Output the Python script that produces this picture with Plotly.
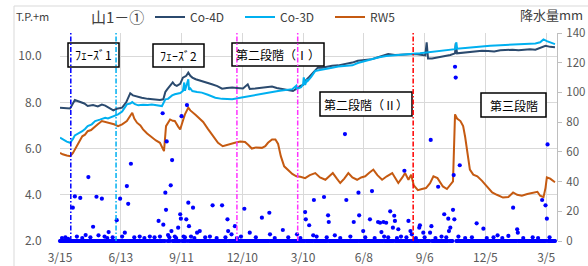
import pandas as pd
import plotly.graph_objects as go

START = pd.Timestamp("2021-03-15")
N_DAYS = 734  # observation days (daily rainfall record)

# ---- groundwater level T.P.+m (day offset from START, value) ----
co4d_day = [0, 7, 15, 22, 30, 36, 41, 49, 56, 62, 67, 73, 79, 84, 92, 98, 104, 108, 111, 116, 121, 130, 141,
            148, 153, 156, 159, 163, 167, 170, 173, 178, 182, 187, 190, 193, 196, 201, 210, 218, 225, 233, 240,
            247, 255, 262, 271, 278, 281, 289, 296, 305, 314, 321, 329, 338, 345, 351, 356, 360, 364, 369, 373,
            378, 382, 388, 396, 403, 412, 422, 433, 441, 452, 462, 471, 480, 486, 496, 504, 511, 519, 526, 533,
            541, 543, 545, 551, 560, 570, 578, 585, 586, 588, 597, 606, 615, 625, 634, 643, 652, 661, 670, 679,
            687, 696, 704, 711, 719, 726, 733]
co4d_val = [7.77, 7.75, 7.73, 8.10, 8.01, 7.95, 7.84, 7.88, 7.82, 7.90, 7.86, 7.75, 7.65, 7.72, 7.77, 8.00, 8.39,
            8.30, 8.27, 8.25, 8.20, 8.15, 8.13, 8.10, 8.13, 8.45, 8.57, 8.70, 8.86, 8.75, 8.71, 8.80, 9.07, 9.15,
            9.29, 9.15, 9.07, 9.00, 8.93, 8.85, 8.78, 8.70, 8.59, 8.62, 8.64, 8.62, 8.60, 8.78, 8.58, 8.60, 8.62,
            8.65, 8.68, 8.62, 8.57, 8.52, 8.49, 8.60, 8.71, 8.75, 8.95, 9.10, 9.22, 9.35, 9.51, 9.50, 9.55, 9.58,
            9.60, 9.65, 9.72, 9.80, 9.83, 9.87, 9.95, 10.02, 10.09, 10.05, 10.07, 10.09, 10.08, 10.09, 10.05,
            10.03, 10.60, 9.90, 9.90, 9.95, 10.00, 10.05, 10.12, 10.55, 10.12, 10.15, 10.18, 10.20, 10.23, 10.22,
            10.20, 10.25, 10.27, 10.28, 10.25, 10.27, 10.30, 10.28, 10.35, 10.45, 10.40, 10.38]

co3d_day = [0, 4, 10, 15, 19, 22, 27, 33, 37, 41, 47, 52, 59, 67, 71, 77, 81, 86, 92, 96, 99, 104, 107, 111, 116,
            123, 130, 136, 144, 151, 156, 160, 166, 170, 178, 182, 184, 185, 190, 191, 193, 196, 203, 210, 219,
            230, 240, 255, 267, 284, 304, 323, 344, 350, 351, 357, 360, 361, 363, 366, 367, 372, 378, 385, 393,
            403, 412, 422, 433, 441, 452, 462, 471, 483, 496, 511, 523, 533, 545, 556, 570, 585, 587, 588, 600,
            615, 625, 637, 652, 667, 681, 696, 704, 711, 716, 721, 729, 733]
co3d_val = [6.47, 6.40, 6.30, 6.25, 6.40, 6.57, 6.65, 6.75, 6.85, 6.97, 7.05, 7.19, 7.25, 7.33, 7.30, 7.38, 7.42,
            7.48, 7.60, 7.80, 7.91, 7.95, 8.01, 7.92, 7.87, 7.90, 7.88, 7.91, 7.88, 7.84, 8.13, 8.15, 8.30, 8.35,
            8.40, 8.49, 8.86, 8.50, 9.00, 8.55, 8.60, 8.49, 8.45, 8.42, 8.33, 8.20, 8.15, 8.13, 8.20, 8.30, 8.39,
            8.49, 8.57, 8.72, 8.58, 8.65, 8.78, 9.08, 8.75, 9.00, 8.93, 9.10, 9.36, 9.40, 9.43, 9.50, 9.55, 9.57,
            9.60, 9.70, 9.80, 9.88, 9.94, 10.00, 10.04, 10.09, 10.10, 10.12, 10.16, 10.20, 10.25, 10.30, 10.60,
            10.32, 10.35, 10.40, 10.42, 10.45, 10.47, 10.50, 10.52, 10.55, 10.55, 10.60, 10.72, 10.65, 10.55, 10.52]

rw5_day = [0, 4, 10, 15, 19, 22, 27, 33, 37, 41, 46, 52, 56, 62, 68, 74, 80, 86, 92, 99, 104, 107, 110, 114, 119,
           123, 129, 136, 142, 148, 153, 154, 157, 160, 163, 167, 170, 175, 178, 182, 185, 190, 193, 201, 206,
           212, 219, 227, 234, 241, 246, 252, 259, 267, 274, 279, 284, 290, 299, 304, 308, 314, 319, 323, 327,
           332, 338, 344, 350, 356, 363, 370, 378, 385, 393, 399, 404, 410, 415, 421, 427, 433, 440, 446, 452,
           458, 464, 470, 477, 484, 492, 496, 501, 507, 511, 516, 520, 524, 530, 536, 542, 548, 553, 559, 563,
           567, 573, 578, 582, 585, 588, 593, 597, 600, 603, 607, 612, 618, 625, 633, 640, 647, 656, 664, 671,
           677, 684, 692, 699, 707, 711, 716, 719, 721, 726, 730, 733]
rw5_val = [5.81, 5.75, 5.70, 5.67, 5.80, 5.96, 6.20, 6.53, 6.60, 6.75, 6.80, 6.97, 7.05, 7.19, 7.15, 7.12, 7.05,
           6.97, 7.05, 7.19, 7.40, 7.55, 7.30, 7.12, 7.00, 6.83, 6.65, 6.47, 6.35, 6.25, 6.00, 5.89, 6.97, 7.10,
           7.26, 7.20, 7.19, 6.95, 6.83, 7.20, 7.48, 7.77, 7.65, 7.45, 7.30, 7.15, 6.85, 6.50, 6.25, 6.10, 6.15,
           6.20, 6.25, 6.30, 6.28, 6.15, 6.00, 6.05, 6.03, 6.10, 6.25, 6.39, 6.39, 6.20, 5.67, 5.23, 5.05, 4.90,
           4.80, 4.78, 4.72, 4.85, 4.94, 4.75, 4.65, 4.80, 4.94, 4.70, 4.51, 4.70, 4.94, 4.75, 4.65, 4.75, 4.80,
           4.95, 5.09, 4.85, 4.65, 4.80, 4.94, 4.75, 4.51, 4.75, 4.94, 4.65, 4.87, 4.40, 4.20, 4.25, 4.29, 4.50,
           4.80, 4.72, 4.55, 4.36, 4.25, 4.43, 4.58, 7.48, 7.30, 7.19, 6.97, 6.50, 5.96, 5.09, 4.87, 4.80, 4.60,
           4.35, 4.10, 4.00, 3.88, 3.90, 4.10, 4.00, 3.96, 4.03, 4.08, 4.13, 3.96, 3.90, 4.30, 4.75, 4.70, 4.60,
           4.54]

# ---- daily rainfall mm (days with rain; all other days 0) ----
rain_day = [19, 22, 30, 38, 42, 49, 54, 57, 62, 72, 84, 89, 96, 99, 101, 105, 146, 152, 153, 156, 157, 158, 160,
            164, 165, 166, 175, 178, 179, 180, 187, 188, 190, 191, 197, 203, 207, 226, 240, 248, 249, 254, 259,
            273, 281, 299, 310, 311, 330, 351, 363, 364, 369, 375, 376, 391, 397, 398, 407, 422, 424, 435, 442,
            443, 449, 459, 462, 471, 474, 476, 479, 483, 489, 493, 495, 496, 501, 510, 516, 519, 521, 532, 533,
            538, 548, 549, 550, 560, 569, 575, 576, 578, 582, 583, 584, 585, 586, 592, 617, 627, 648, 664, 671,
            677, 678, 714, 719, 721, 722]
rain_mm = [22.4, 30, 29, 4, 43, 9.6, 29.8, 3.8, 28.5, 6, 14, 28.5, 5.6, 37, 25, 52, 13.5, 86, 11, 32.5, 21, 67, 4,
           37.5, 6.7, 54.5, 9, 18, 15, 84, 14.6, 91.5, 25.8, 10, 22.4, 5.6, 6.7, 24, 24, 14.6, 6.7, 4.5, 10,
           21.7, 5.6, 15.7, 19, 4.5, 7.4, 4.5, 19.5, 14.6, 10.6, 3.8, 27.6, 29.6, 17.3, 12.8, 3.8, 72, 27.6, 12.8,
           32.5, 17.3, 6.7, 14.6, 33.6, 12.8, 12.3, 6, 12.8, 12.3, 20, 9, 17, 13.5, 7.9, 47.3, 13.5, 6.7, 4.5, 9,
           10.6, 5.6, 5.6, 68, 10, 36.5, 18, 15, 6.7, 9, 21, 44.4, 14.6, 117.3, 110, 51, 11.9, 8.3, 3.8, 3.4,
           22.4, 7.9, 5.6, 27.6, 24, 15, 65]
rain_small_day = [3, 8, 12, 25, 33, 45, 66, 70, 78, 92, 110, 118, 125, 133, 140, 148, 162, 170, 172, 183, 185,
                  194, 199, 215, 222, 232, 245, 262, 268, 290, 318, 338, 356, 380, 395, 415, 430, 452, 466, 480,
                  486, 499, 505, 513, 527, 540, 556, 565, 572, 590, 600, 610, 632, 642, 655, 686, 700, 708, 725]
rain_small_mm = [2, 2.5, 1.5, 3, 2, 2.5, 3, 2, 2.5, 3, 2.5, 3, 2, 3, 2.5, 3, 2.5, 3, 2, 3, 2.5, 3, 2, 2.5, 3, 2,
                 2.5, 2, 3, 2.5, 2, 2.5, 2, 3, 2.5, 2, 3, 2.5, 2, 3, 2.5, 2, 3, 2.5, 2, 2.5, 2, 3, 2.5, 3, 2, 2.5,
                 2, 2.5, 2, 2, 2.5, 2, 2.5]

# ---- phase change dates ----
phase_dates = ["2021-03-31", "2021-06-06", "2021-12-02", "2022-03-02", "2022-08-20"]
phase_colors = ["#0000FF", "#00B0F0", "#FF33FF", "#FF33FF", "#FF0000"]

# ---- axis ticks ----
xtick_dates = ["2021-03-15", "2021-06-13", "2021-09-11", "2021-12-10", "2022-03-10",
               "2022-06-08", "2022-09-06", "2022-12-05", "2023-03-05"]
xtick_text = ["3/15", "6/13", "9/11", "12/10", "3/10", "6/8", "9/6", "12/5", "3/5"]
ytick_vals = [2, 4, 6, 8, 10]
ytick_text = ["2.0", "4.0", "6.0", "8.0", "10.0"]
y2tick_vals = [0, 20, 40, 60, 80, 100, 120, 140]

FONT = "Noto Sans CJK JP, Noto Sans, sans-serif"


def to_dates(days):
    return [START + pd.Timedelta(days=int(d)) for d in days]


rain = {d: 0.0 for d in range(N_DAYS)}
for d, v in zip(rain_small_day, rain_small_mm):
    rain[d] = v
for d, v in zip(rain_day, rain_mm):
    rain[d] = v
rain_x = to_dates(list(rain.keys()))
rain_y = list(rain.values())

fig = go.Figure()
fig.add_trace(go.Scatter(x=rain_x, y=rain_y, mode="markers", yaxis="y2", showlegend=False,
                         marker=dict(color="#0000FF", size=4.2), cliponaxis=False))
fig.add_trace(go.Scatter(x=to_dates(co4d_day), y=co4d_val, mode="lines", name="Co-4D",
                         line=dict(color="#2B4A6E", width=2)))
fig.add_trace(go.Scatter(x=to_dates(co3d_day), y=co3d_val, mode="lines", name="Co-3D",
                         line=dict(color="#00B0F0", width=2)))
fig.add_trace(go.Scatter(x=to_dates(rw5_day), y=rw5_val, mode="lines", name="RW5",
                         line=dict(color="#C55A11", width=2)))

# pixel -> paper helpers (plot area 60..557 x, 33..241 y)
L, R, T, B = 60, 557, 33, 241


def px(x):
    return (x - L) / (R - L)


def py(y):
    return (B - y) / (B - T)


shapes = []
# outer chart border
shapes.append(dict(type="rect", xref="paper", yref="paper", x0=px(14), x1=px(620), y0=py(290), y1=py(6),
                   line=dict(color="#D9D9D9", width=1), layer="below"))

boxes = [
    ("ﾌｪｰｽﾞ1", 68, 119, 43, 67),
    ("ﾌｪｰｽﾞ2", 153, 204, 44, 67),
    ("第二段階（Ⅰ）", 232, 324, 43, 66),
    ("第二段階（Ⅱ）", 320, 412, 92, 116),
    ("第三段階", 481, 546, 93, 117),
]
annotations = []
for text, x0, x1, y0, y1 in boxes:
    shapes.append(dict(type="rect", xref="paper", yref="paper", x0=px(x0), x1=px(x1), y0=py(y1), y1=py(y0),
                       line=dict(color="#000000", width=1.5), fillcolor="white", layer="above"))
    annotations.append(dict(text=text, xref="paper", yref="paper", x=px((x0 + x1) / 2), y=py((y0 + y1) / 2),
                            showarrow=False, font=dict(family=FONT, size=12, color="#000000"),
                            xanchor="center", yanchor="middle"))

for d, c in zip(phase_dates, phase_colors):
    shapes.append(dict(type="line", xref="x", yref="paper", x0=d, x1=d, y0=0, y1=1,
                       line=dict(color=c, width=1.5, dash="5px,2px,1.5px,2px"), layer="above"))

annotations.append(dict(text="T.P.+m", xref="paper", yref="paper", x=px(14), y=py(16), xanchor="left",
                        yanchor="middle", showarrow=False, font=dict(family=FONT, size=11, color="#404040")))
annotations.append(dict(text="山1－①", xref="paper", yref="paper", x=px(117), y=py(16), xanchor="center",
                        yanchor="middle", showarrow=False, font=dict(family=FONT, size=15, color="#404040")))
annotations.append(dict(text="降水量mm", xref="paper", yref="paper", x=px(518), y=py(14), xanchor="left",
                        yanchor="middle", showarrow=False, font=dict(family=FONT, size=13, color="#404040")))

fig.update_layout(
    width=588, height=266,
    margin=dict(l=L, r=588 - R, t=T, b=266 - B, autoexpand=False),
    paper_bgcolor="white", plot_bgcolor="white",
    font=dict(family=FONT, size=12, color="#595959"),
    showlegend=True,
    legend=dict(orientation="h", x=px(150), y=py(17), xanchor="left", yanchor="middle",
                font=dict(family=FONT, size=12, color="#404040"), bgcolor="rgba(0,0,0,0)",
                entrywidth=45, itemwidth=30, tracegroupgap=0),
    xaxis=dict(type="date", range=["2021-03-15", "2023-03-21"], tickvals=xtick_dates, ticktext=xtick_text,
               showgrid=True, gridcolor="#D9D9D9", gridwidth=1, zeroline=False, showline=False,
               ticks="outside", ticklen=6, tickcolor="rgba(0,0,0,0)",
               tickfont=dict(size=12, color="#595959")),
    yaxis=dict(range=[2, 11], tickvals=ytick_vals, ticktext=ytick_text, showgrid=True, gridcolor="#D9D9D9",
               zeroline=False, showline=False, ticks="outside", ticklen=15, tickcolor="rgba(0,0,0,0)",
               tickfont=dict(size=12, color="#595959")),
    yaxis2=dict(range=[0, 140], tickvals=y2tick_vals, overlaying="y", side="right", showgrid=False,
                zeroline=False, showline=True, linecolor="#BFBFBF", ticks="outside", ticklen=4,
                tickcolor="#BFBFBF", tickfont=dict(size=11.5, color="#595959"), ticklabelstandoff=2),
    shapes=shapes,
    annotations=annotations,
)

fig.write_html("out.html", config={"displayModeBar": False},
               post_script="document.body.style.margin='0px';")
